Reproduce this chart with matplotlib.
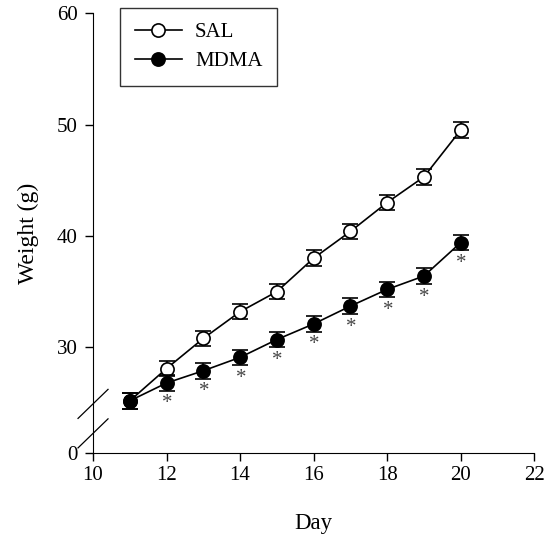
import numpy as np
import matplotlib.pyplot as plt
from matplotlib.lines import Line2D

plt.rcParams['font.family'] = ['Liberation Serif', 'DejaVu Serif']

# datos
dias = np.array([11, 12, 13, 14, 15, 16, 17, 18, 19, 20])
sal = np.array([25.2, 28.1, 30.8, 33.2, 35.0, 38.0, 40.4, 43.0, 45.3, 49.5])
sal_err = np.array([0.7, 0.7, 0.7, 0.7, 0.7, 0.7, 0.7, 0.7, 0.7, 0.7])
mdma = np.array([25.2, 26.8, 27.9, 29.1, 30.7, 32.1, 33.7, 35.2, 36.4, 39.4])
mdma_err = np.array([0.7, 0.7, 0.7, 0.7, 0.7, 0.7, 0.7, 0.7, 0.7, 0.7])
signif = [False, True, True, True, True, True, True, True, True, True]

y_ticks = [0, 30, 40, 50, 60]
x_ticks = [10, 12, 14, 16, 18, 20, 22]

# escala con corte: 0-24 comprimido, 24-60 lineal
corte = 24.0
base = 20.5


def fwd(v):
    v = np.asarray(v, dtype=float)
    return np.where(v >= corte, v, base + v * (corte - base) / corte)


def inv(u):
    u = np.asarray(u, dtype=float)
    return np.where(u >= corte, u, (u - base) * corte / (corte - base))


fig = plt.figure(figsize=(5.44, 5.46), dpi=100)
ax = fig.add_axes([0.171, 0.170, 0.811, 0.806])
ax.set_yscale('function', functions=(fwd, inv))

ax.errorbar(dias, sal, yerr=sal_err, color='black', lw=1.2, marker='o',
            ms=9.5, mfc='white', mec='black', mew=1.2, capsize=6,
            capthick=1.2, elinewidth=1.2, zorder=3, label='SAL')
ax.errorbar(dias, mdma, yerr=mdma_err, color='black', lw=1.2, marker='o',
            ms=9.5, mfc='black', mec='black', mew=1.2, capsize=6,
            capthick=1.2, elinewidth=1.2, zorder=4, label='MDMA')

for d, m, e, s in zip(dias, mdma, mdma_err, signif):
    if s:
        ax.annotate('*', (d, m - e), xytext=(0.5, -9.5), textcoords='offset points',
                    ha='center', va='center', fontsize=15, color='#444444')

ax.set_xlim(10, 22)
ax.set_ylim(0, 60)
ax.set_xticks(x_ticks)
ax.set_yticks(y_ticks)
ax.spines['top'].set_visible(False)
ax.spines['right'].set_visible(False)
ax.tick_params(direction='out', length=6, width=1, labelsize=15)
ax.tick_params(axis='y', pad=5)
ax.set_xlabel('Day', fontsize=16.5, labelpad=20)
ax.set_ylabel('Weight (g)', fontsize=17, labelpad=13)

# marcas del corte
for y0 in [0.112, 0.045]:
    ax.add_line(Line2D([-0.034, 0.034], [y0 - 0.033, y0 + 0.033],
                       transform=ax.transAxes, color='black', lw=0.9,
                       clip_on=False))

handles = [Line2D([], [], color='black', lw=1.2, marker='o', ms=9.5,
                  mfc='white', mec='black', mew=1.2),
           Line2D([], [], color='black', lw=1.2, marker='o', ms=9.5,
                  mfc='black', mec='black', mew=1.2)]
leg = ax.legend(handles, ['SAL', 'MDMA'], loc='upper left',
                bbox_to_anchor=(0.061, 1.011), borderaxespad=0, fontsize=15,
                frameon=True, fancybox=False, edgecolor='black',
                handlelength=2.3, borderpad=0.7, labelspacing=0.45,
                handletextpad=0.6)
leg.get_frame().set_linewidth(1.0)

fig.savefig('out.png', dpi=100)
